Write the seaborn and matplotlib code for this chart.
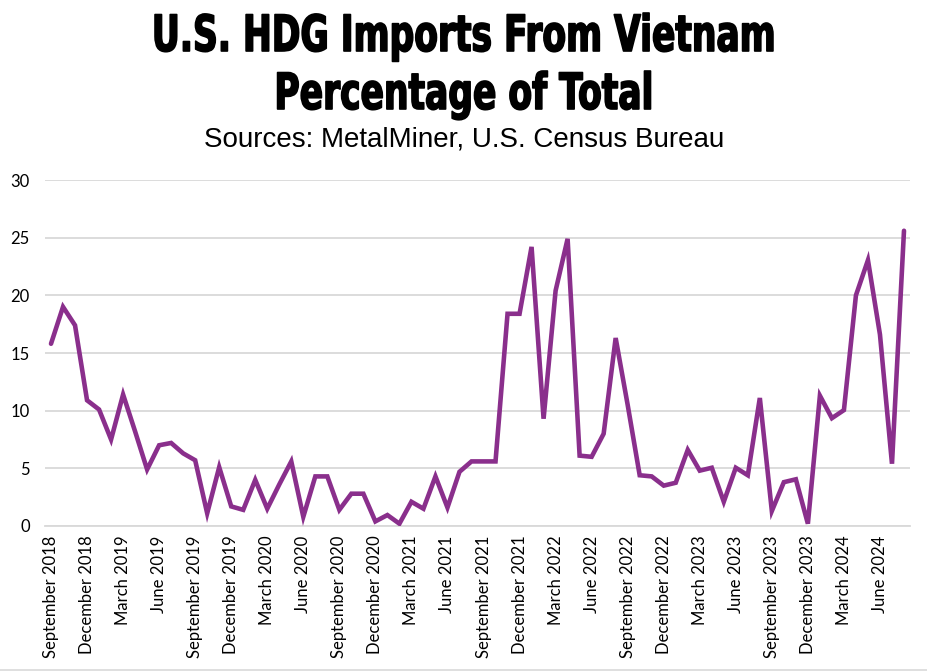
import numpy as np
import pandas as pd
import seaborn as sns
import matplotlib.pyplot as plt
import matplotlib.patheffects as pe
from matplotlib.transforms import Affine2D
from matplotlib.ticker import FixedLocator

# 数据：2018年9月 ~ 2024年8月，越南 HDG 进口占比 (%)
pct_vietnam = [
    15.8, 19.0, 17.4, 10.9, 10.1, 7.5, 11.4, 8.2, 4.9, 7.0, 7.2, 6.3,
    5.7, 1.1, 5.1, 1.7, 1.4, 4.0, 1.5, 3.6, 5.6, 0.8, 4.3, 4.3,
    1.4, 2.8, 2.8, 0.4, 0.95, 0.2, 2.1, 1.5, 4.3, 1.6, 4.7, 5.6,
    5.6, 5.6, 18.4, 18.4, 24.2, 9.3, 20.4, 24.9, 6.1, 6.0, 8.0, 16.3,
    10.5, 4.4, 4.3, 3.5, 3.75, 6.6, 4.8, 5.05, 2.1, 5.05, 4.4, 11.1,
    1.3, 3.8, 4.05, 0.2, 11.3, 9.35, 10.05, 20.0, 23.05, 16.6, 5.4, 25.6,
]
tick_labels = [
    "September 2018", "December 2018", "March 2019", "June 2019",
    "September 2019", "December 2019", "March 2020", "June 2020",
    "September 2020", "December 2020", "March 2021", "June 2021",
    "September 2021", "December 2021", "March 2022", "June 2022",
    "September 2022", "December 2022", "March 2023", "June 2023",
    "September 2023", "December 2023", "March 2024", "June 2024",
]
y_ticks = [0, 5, 10, 15, 20, 25, 30]

df = pd.DataFrame({"idx": np.arange(len(pct_vietnam)), "pct": pct_vietnam})

sns.set_style("white")
plt.rcParams["font.family"] = ["Lato", "DejaVu Sans"]
plt.rcParams["text.color"] = "black"
plt.rcParams["xtick.color"] = "black"
plt.rcParams["ytick.color"] = "black"

GRID = "#d9d9d9"
PURPLE = "#8a2f8c"
W, H = 928, 672


class Squeeze(pe.AbstractPathEffect):
    """标题横向压缩 + 描边加粗，模拟窄体黑体"""
    def __init__(self, sx, cx, stroke=1.2):
        super().__init__()
        self.sx, self.cx, self.stroke = sx, cx, stroke

    def draw_path(self, renderer, gc, tpath, affine, rgbFace=None):
        t = affine + Affine2D().translate(-self.cx, 0).scale(self.sx, 1).translate(self.cx, 0)
        gc0 = renderer.new_gc()
        gc0.copy_properties(gc)
        gc0.set_linewidth(self.stroke)
        gc0.set_foreground("black")
        gc0.set_joinstyle("round")
        renderer.draw_path(gc0, tpath, t, rgbFace)
        gc0.restore()


fig = plt.figure(figsize=(W / 100, H / 100), dpi=100)
ax = fig.add_axes([45 / W, 146 / H, 865 / W, 346 / H])

sns.lineplot(data=df, x="idx", y="pct", ax=ax, color=PURPLE, linewidth=3.3,
             solid_joinstyle="miter", zorder=3)

n = len(pct_vietnam)
ax.set_xlim(-0.5, n - 0.5)
ax.set_ylim(0, 30)
ax.set_yticks(y_ticks)
ax.set_yticklabels([str(v) for v in y_ticks], fontsize=12)
ax.yaxis.grid(True, color=GRID, linewidth=1.3)
ax.set_axisbelow(True)

# 标签在每组第一个月，刻度线在组边界
ax.xaxis.set_major_locator(FixedLocator(np.arange(0, n, 3)))
ax.set_xticklabels(tick_labels, rotation=90, fontsize=12, va="top")
ax.xaxis.set_minor_locator(FixedLocator(np.arange(-0.5, n, 3)))
ax.tick_params(axis="x", which="major", length=0, pad=7)
ax.tick_params(axis="x", which="minor", length=6, width=1.3, color=GRID)
ax.tick_params(axis="y", length=0, pad=11)

for s in ["top", "right", "left"]:
    ax.spines[s].set_visible(False)
ax.spines["bottom"].set_color(GRID)
ax.spines["bottom"].set_linewidth(1.3)
ax.set_xlabel("")
ax.set_ylabel("")

squeeze = [Squeeze(0.69, W / 2)]
fig.text(0.5, 1 - 37 / H, "U.S. HDG Imports From Vietnam", ha="center", va="center",
         fontsize=36, fontweight="bold", family="DejaVu Sans", path_effects=squeeze)
fig.text(0.5, 1 - 95 / H, "Percentage of Total", ha="center", va="center",
         fontsize=36, fontweight="bold", family="DejaVu Sans", path_effects=squeeze)
fig.text(0.5, 1 - 139 / H, "Sources: MetalMiner, U.S. Census Bureau", ha="center",
         va="center", fontsize=20, family=["Liberation Sans", "DejaVu Sans"])

# 底部细线
fig.add_artist(plt.Line2D([0, 1], [2 / H, 2 / H], color=GRID, linewidth=1.2,
                          transform=fig.transFigure))

fig.savefig("out.png", dpi=100, facecolor="white")
